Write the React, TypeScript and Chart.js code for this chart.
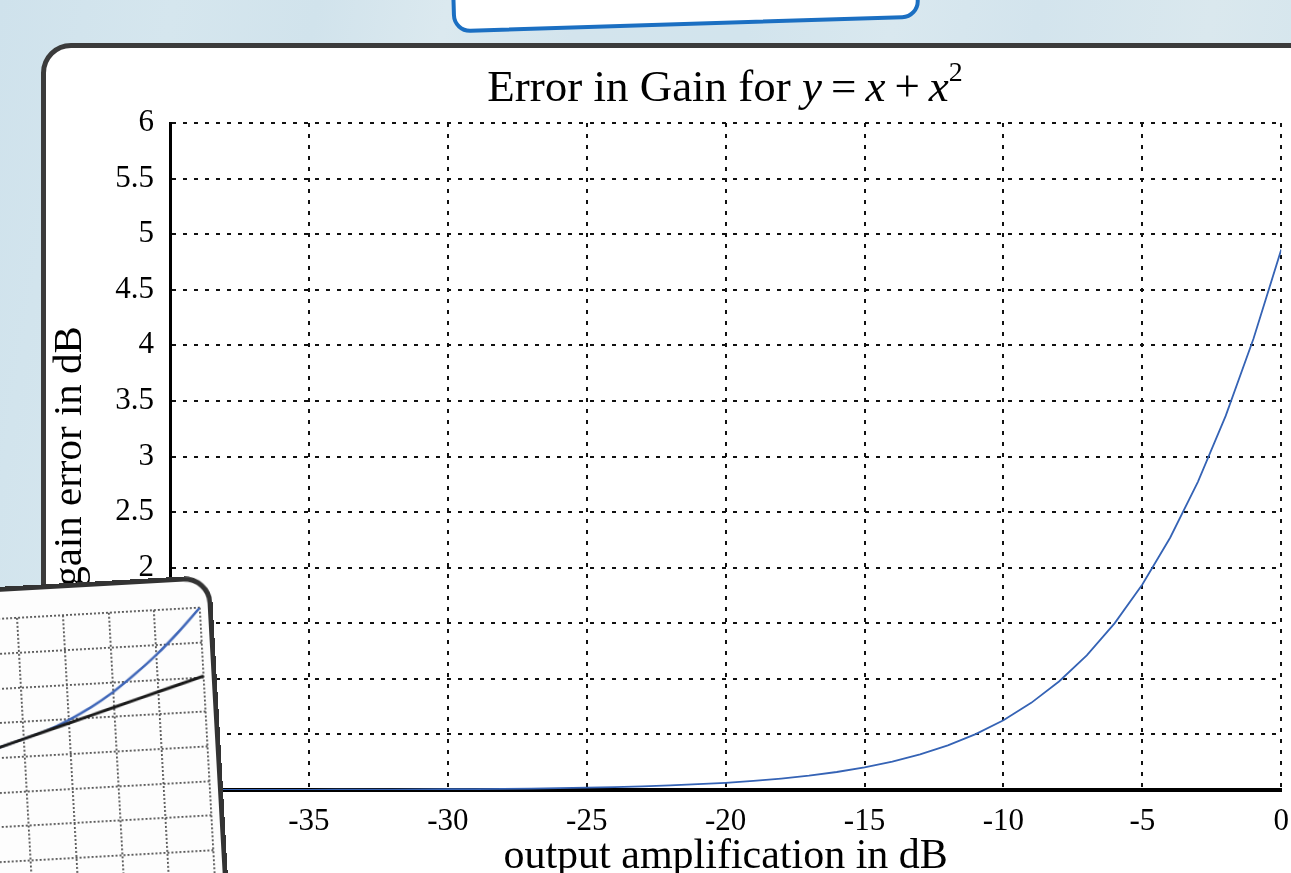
import React, { useEffect, useRef } from "react";
import { Chart, registerables } from "chart.js";

Chart.register(...registerables);

// ---------- main chart data ----------
const outputDb = [
  -40, -39, -38, -37, -36, -35, -34, -33, -32, -31, -30, -29, -28, -27, -26, -25,
  -24, -23, -22, -21, -20, -19, -18, -17, -16, -15, -14, -13, -12, -11, -10, -9,
  -8, -7, -6, -5, -4, -3, -2, -1, 0,
];
const gainErrorDb = [
  0.001, 0.001, 0.001, 0.001, 0.002, 0.002, 0.003, 0.003, 0.004, 0.005, 0.007, 0.008,
  0.01, 0.013, 0.016, 0.021, 0.026, 0.033, 0.041, 0.052, 0.065, 0.082, 0.103, 0.129,
  0.162, 0.204, 0.256, 0.32, 0.402, 0.503, 0.628, 0.784, 0.976, 1.211, 1.499, 1.849,
  2.269, 2.772, 3.365, 4.059, 4.861,
];
const xAxisTitle = "output amplification in dB";
const yAxisTitle = "gain error in dB";

// ---------- inset (partly hidden second chart) ----------
const insetX = [-3, -2, -1, 0, 0.5, 1, 1.5, 2, 2.5, 3, 3.5, 4];
const insetLinear = [3.37, 3.75, 4.13, 4.51, 4.7, 4.89, 5.08, 5.27, 5.46, 5.65, 5.84, 6.03];
const insetCurve = [3.37, 3.75, 4.13, 4.51, 4.71, 4.98, 5.31, 5.71, 6.19, 6.72, 7.33, 8.0];

const FONT = "'Liberation Serif', 'Times New Roman', serif";

function MainChart() {
  const ref = useRef<HTMLCanvasElement>(null);
  useEffect(() => {
    const chart = new Chart(ref.current!, {
      type: "line",
      data: {
        datasets: [
          {
            data: outputDb.map((x, i) => ({ x, y: gainErrorDb[i] })),
            borderColor: "#3563b5",
            borderWidth: 1.8,
            pointRadius: 0,
            tension: 0,
            fill: false,
          },
        ],
      },
      options: {
        animation: false,
        responsive: false,
        maintainAspectRatio: false,
        layout: { padding: { left: 45, right: 10, top: 123, bottom: 42 } },
        plugins: {
          legend: { display: false },
          tooltip: { enabled: false },
          title: { display: false },
        },
        scales: {
          x: {
            type: "linear",
            min: -40,
            max: 0,
            ticks: {
              stepSize: 5,
              font: { family: FONT, size: 31 },
              color: "#000",
              padding: 13,
              maxRotation: 0,
              autoSkip: false,
              maxTicksLimit: 100,
              callback: (v: any) => String(v),
            },
            grid: { color: "#111", lineWidth: 2, drawTicks: false },
            border: { display: true, color: "#000", width: 4, dash: [4, 7] },
            title: {
              display: true,
              text: xAxisTitle,
              font: { family: FONT, size: 42, lineHeight: 1 },
              color: "#000",
              padding: { top: 0, bottom: 0 },
            },
            afterFit: (s: any) => {
              s.height = 88;
            },
          },
          y: {
            type: "linear",
            min: 0,
            max: 6,
            ticks: {
              stepSize: 0.5,
              font: { family: FONT, size: 31 },
              color: "#000",
              padding: 16,
              autoSkip: false,
              maxTicksLimit: 100,
              callback: (v: any) => String(v),
            },
            grid: { color: "#111", lineWidth: 2, drawTicks: false },
            border: { display: true, color: "#000", width: 3, dash: [4, 7] },
            title: {
              display: true,
              text: yAxisTitle,
              font: { family: FONT, size: 41, lineHeight: 1 },
              color: "#000",
              padding: { top: 5, bottom: 0 },
            },
            afterFit: (s: any) => {
              s.width = 125;
            },
          },
        },
      },
    });
    return () => chart.destroy();
  }, []);
  return (
    <canvas
      ref={ref}
      width={1302}
      height={920}
      style={{ position: "absolute", left: 0, top: 0, width: 1302, height: 920 }}
    />
  );
}

function InsetChart() {
  const ref = useRef<HTMLCanvasElement>(null);
  useEffect(() => {
    const chart = new Chart(ref.current!, {
      type: "line",
      data: {
        datasets: [
          {
            data: insetX.map((x, i) => ({ x, y: insetLinear[i] })),
            borderColor: "#1a1a1a",
            borderWidth: 3,
            pointRadius: 0,
            tension: 0,
            fill: false,
          },
          {
            data: insetX.map((x, i) => ({ x, y: insetCurve[i] })),
            borderColor: "#3f66b8",
            borderWidth: 2.5,
            pointRadius: 0,
            tension: 0.3,
            fill: false,
          },
        ],
      },
      options: {
        animation: false,
        responsive: false,
        maintainAspectRatio: false,
        layout: { padding: { left: 0, right: 8, top: 27, bottom: 0 } },
        plugins: { legend: { display: false }, tooltip: { enabled: false } },
        scales: {
          x: {
            type: "linear",
            min: -2.61,
            max: 4,
            ticks: { display: false, stepSize: 1, includeBounds: false },
            grid: { color: "#555", lineWidth: 1.8, drawTicks: false },
            border: { display: false, dash: [2, 2] },
            afterFit: (s: any) => {
              s.height = 0;
            },
          },
          y: {
            type: "linear",
            min: -0.73,
            max: 8,
            ticks: { display: false, stepSize: 1, includeBounds: false },
            grid: { color: "#555", lineWidth: 1.8, drawTicks: false },
            border: { display: false, dash: [2, 2] },
            afterFit: (s: any) => {
              s.width = 0;
            },
          },
        },
      },
    });
    return () => chart.destroy();
  }, []);
  return (
    <canvas
      ref={ref}
      width={310}
      height={330}
      style={{ position: "absolute", left: 0, top: 0, width: 310, height: 330 }}
    />
  );
}

export default function App() {
  return (
    <div
      style={{
        position: "fixed",
        left: 0,
        top: 0,
        width: 1291,
        height: 873,
        overflow: "hidden",
        background:
          "linear-gradient(100deg, #cfe2ec 0%, #d5e6ee 12%, #d1e3ec 22%, #dbe9ef 31%, #d3e4ed 40%, #d2e4ed 52%, #d9e8ef 62%, #d3e4ed 72%, #dae8ee 84%, #d1e3ec 100%)",
        fontFamily: FONT,
      }}
    >
      {/* top card fragment */}
      <div
        style={{
          position: "absolute",
          left: 451,
          top: -64,
          width: 468,
          height: 90,
          boxSizing: "border-box",
          border: "4px solid #1b6fc2",
          borderRadius: 18,
          background: "#ffffff",
          transform: "rotate(-1.8deg)",
        }}
      />
      {/* main card */}
      <div
        style={{
          position: "absolute",
          left: 41,
          top: 43,
          width: 1400,
          height: 1000,
          boxSizing: "border-box",
          border: "5px solid #3b3b3b",
          borderRadius: 30,
          background: "#ffffff",
        }}
      />
      <MainChart />
      {/* chart title */}
      <div
        style={{
          position: "absolute",
          left: 725,
          top: 64,
          transform: "translateX(-50%)",
          whiteSpace: "nowrap",
          fontSize: 45,
          lineHeight: "45px",
          color: "#000",
        }}
      >
        Error in Gain for <i>y</i>
        {"\u2009=\u2009"}
        <i>x</i>
        {"\u2009+\u2009"}
        <i>x</i>
        <sup style={{ fontSize: "0.62em", verticalAlign: "0.72em", lineHeight: 0 }}>2</sup>
      </div>
      {/* overlapping inset card */}
      <div
        style={{
          position: "absolute",
          left: 210.5 - 320,
          top: 574.6,
          width: 320,
          height: 340,
          boxSizing: "border-box",
          border: "5px solid #333333",
          borderRadius: 28,
          background: "#fdfdfd",
          transformOrigin: "top right",
          transform: "rotate(-3.2deg)",
          overflow: "hidden",
        }}
      >
        <InsetChart />
      </div>
    </div>
  );
}
